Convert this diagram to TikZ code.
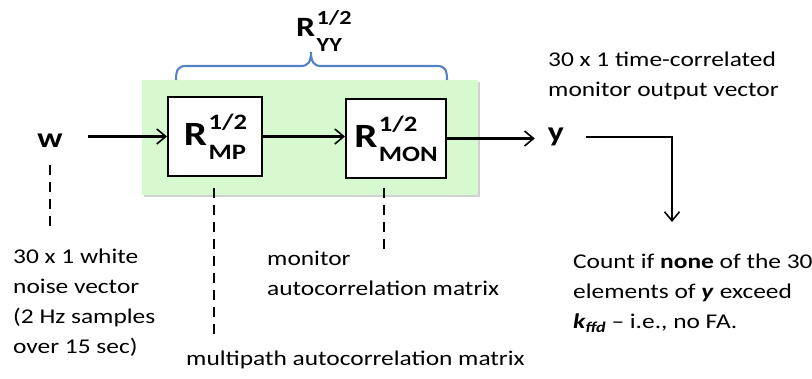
\documentclass[tikz,border=0pt]{standalone}
\usepackage{fontspec}
\setmainfont{Carlito}[FakeStretch=1.21]
\usetikzlibrary{arrows.meta,positioning,shadows}
\definecolor{panelcol}{RGB}{214,249,208}
\definecolor{bracecol}{RGB}{84,130,196}
\newcommand{\fs}[2]{\fontsize{#1}{#2}\selectfont}
% R^{1/2}_{sub}: R size, script size, raise, lower, subscript
\newcommand{\rhalf}[5]{{\bfseries\fs{#1}{#1}R\fs{#2}{#2}\kern1.5pt%
  \rlap{\raisebox{#3}{1/2}}\raisebox{-#4}{#5}}}
\tikzset{
  box/.style     = {rectangle, draw=black, line width=2pt, fill=white,
                    minimum width=#1, minimum height=79pt, inner sep=0pt},
  panel/.style   = {rectangle, fill=panelcol, inner sep=0pt,
                    drop shadow={shadow xshift=1.5pt, shadow yshift=-2pt,
                                 opacity=0.3, fill=black!60}},
  sym/.style     = {font=\bfseries\fs{28}{28}, inner sep=0pt},
  note/.style    = {anchor=north west, align=left, inner sep=0pt,
                    font=\fs{21}{30}},
  flow/.style    = {-{Straight Barb[length=9pt, width=15pt, line width=1.6pt]},
                    line width=2.1pt},
  dashline/.style = {line width=2.1pt, dash pattern=on 10pt off 7pt},
  bracket/.style = {draw=bracecol, line width=2.1pt},
}

\begin{document}
\begin{tikzpicture}[x=1pt, y=-1pt]
  \useasboundingbox (0,0) rectangle (812,379);

  \node[panel, minimum width=336pt, minimum height=115pt] (stage) at (310,137.5) {};

  \node[box=94pt] (mp) at (215,136.5) {\rhalf{34}{22}{16pt}{14pt}{MP}};
  \node[box=100pt] (mon) at (396,138.5) {\rhalf{34}{22}{16pt}{14pt}{MON}};

  \node (ryy) at (319,31) {\rhalf{28}{20}{12pt}{15pt}{YY}};
  \draw[bracket] (176,80) .. controls (176,70) and (178,66) .. (186,66) -- (301,66)
    .. controls (308,66) and (311,62) .. (311,52)
    .. controls (311,62) and (314,66) .. (321,66) -- (437,66)
    .. controls (445,66) and (447,70) .. (447,80);

  \node[sym, anchor=base] (w) at (50,148) {w};
  \node[sym, anchor=base] (y) at (556,142) {y};

  \draw[flow, shorten <=25pt] (mp.west -| w.east) -- (mp.west);
  \draw[flow] (mp.east) -- (mp.east -| mon.west);
  \draw[flow, shorten >=13pt] (mon.east) -- (mon.east -| y.west);

  \coordinate (drop) at (672,222);
  \draw[flow, shorten <=22pt] (y.east) -| (drop);

  % dashed pointers to the notes
  \coordinate (wend) at (50,227);
  \coordinate (mpend) at (214,338);
  \coordinate (monend) at (384,249);
  \draw[dashline, shorten <=17pt] (w.south) -- (wend);
  \draw[dashline, shorten <=11pt] (mp.south -| mpend) -- (mpend);
  \draw[dashline, shorten <=9pt] (mon.south -| monend) -- (monend);

  \node[note] (noise) at (13,249) {30 x 1 white\\ noise vector\\ (2 Hz samples\\ over 15 sec)};
  \node[note] (monnote) at (267,251) {monitor\\ autocorrelation matrix};
  \node[note] (mpnote) at (186,351) {multipath autocorrelation matrix};
  \node[note] (outvec) at (548,52) {30 x 1 time-correlated\\ monitor output vector};
  \node[note] (count) at (573,254)
       {Count if \textbf{none} of the 30\\ elements of \textbf{\textit{y}} exceed\\
        \textbf{\textit{k\raisebox{-4pt}{\fs{15}{15}ffd}}} -- i.e., no FA.};
\end{tikzpicture}
\end{document}
